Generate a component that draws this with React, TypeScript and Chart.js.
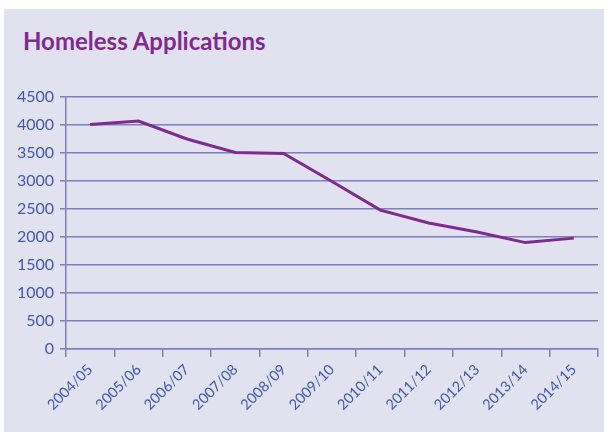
import React, { useEffect, useRef } from "react";
import { Chart, registerables } from "chart.js";

Chart.register(...registerables);

const categories = ["2004/05", "2005/06", "2006/07", "2007/08", "2008/09", "2009/10", "2010/11", "2011/12", "2012/13", "2013/14", "2014/15"];
const applications = [4010, 4070, 3750, 3510, 3490, 2990, 2480, 2250, 2090, 1900, 1980];
const yMin = 0;
const yMax = 4500;
const yStep = 500;
const titleText = "Homeless Applications";

const BG = "#e2e1f0";
const AXIS = "#7b80ba";
const TEXT = "#3f5aa8";
const PURPLE = "#7e2a8e";
const FONT = "Lato, 'Open Sans', sans-serif";

export default function App() {
  const ref = useRef<HTMLCanvasElement | null>(null);
  useEffect(() => {
    document.body.style.margin = "0";
    if (!ref.current) return;
    const chart = new Chart(ref.current, {
      type: "line",
      data: {
        labels: categories,
        datasets: [
          {
            data: applications,
            borderColor: PURPLE,
            borderWidth: 3,
            pointRadius: 0,
            tension: 0,
            fill: false,
          },
        ],
      },
      options: {
        animation: false,
        responsive: false,
        maintainAspectRatio: false,
        layout: { padding: { top: 88, right: 6, left: 0, bottom: 0 } },
        plugins: { legend: { display: false }, tooltip: { enabled: false }, title: { display: false } },
        scales: {
          x: {
            offset: true,
            grid: { offset: true, drawOnChartArea: false, drawTicks: true, tickLength: 8, color: AXIS, lineWidth: 1.5 },
            border: { display: true, color: AXIS, width: 1.5 },
            ticks: {
              color: TEXT,
              font: { family: FONT, size: 14.5 },
              maxRotation: 45,
              minRotation: 45,
              autoSkip: false,
              padding: 4,
            },
            afterFit: (s: any) => {
              s.height = 83;
            },
          },
          y: {
            min: yMin,
            max: yMax,
            ticks: {
              stepSize: yStep,
              color: TEXT,
              font: { family: FONT, size: 16 },
              padding: 6,
              callback: (v: any) => String(v),
            },
            grid: { color: AXIS, lineWidth: 1.5, tickLength: 6, drawTicks: true },
            border: { display: true, color: AXIS, width: 1.5 },
            afterFit: (s: any) => {
              s.width = 62;
            },
          },
        },
      },
    });
    return () => chart.destroy();
  }, []);

  return (
    <div style={{ position: "absolute", left: 0, top: 0, width: 604, height: 432, background: "#ffffff" }}>
      <div style={{ position: "absolute", left: 4, top: 9, width: 600, height: 423, background: BG }}>
        <div
          style={{
            position: "absolute",
            left: 19,
            top: 17,
            fontFamily: FONT,
            fontWeight: 700,
            fontSize: 24,
            color: PURPLE,
            whiteSpace: "nowrap",
            lineHeight: "30px",
          }}
        >
          {titleText}
        </div>
        <canvas ref={ref} width={600} height={423} style={{ position: "absolute", left: 0, top: 0 }} />
      </div>
    </div>
  );
}
